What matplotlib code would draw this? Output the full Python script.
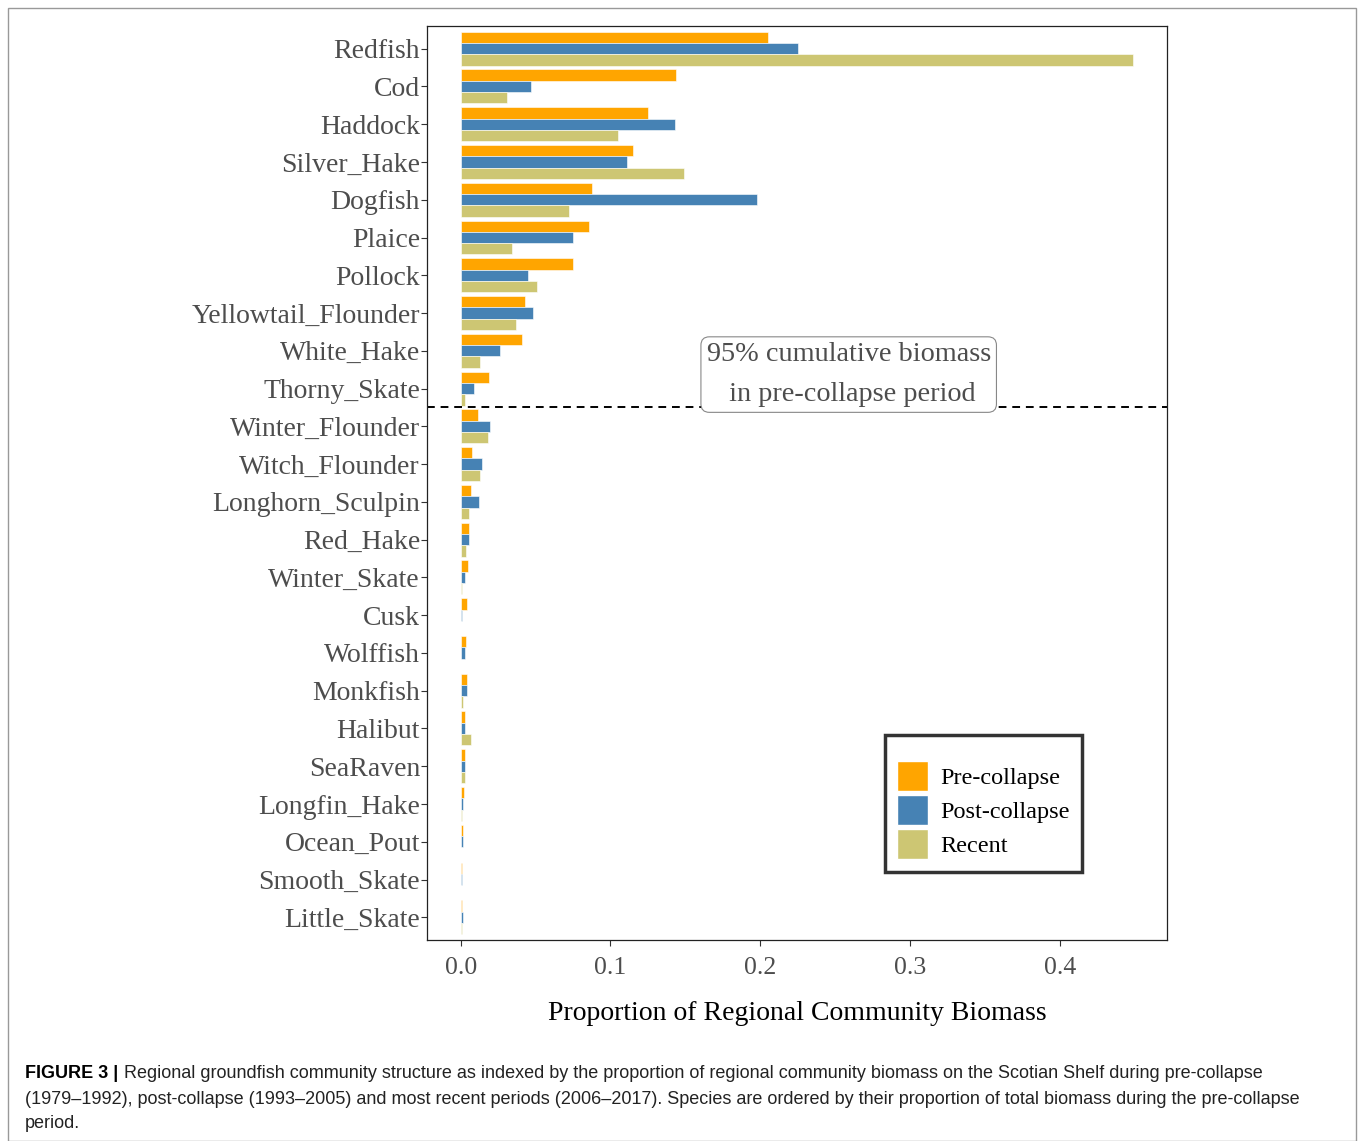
import matplotlib
matplotlib.use("Agg")
import matplotlib.pyplot as plt
import numpy as np
from matplotlib.patches import Rectangle, Patch

species = ["Redfish", "Cod", "Haddock", "Silver_Hake", "Dogfish", "Plaice", "Pollock",
           "Yellowtail_Flounder", "White_Hake", "Thorny_Skate", "Winter_Flounder",
           "Witch_Flounder", "Longhorn_Sculpin", "Red_Hake", "Winter_Skate", "Cusk",
           "Wolffish", "Monkfish", "Halibut", "SeaRaven", "Longfin_Hake", "Ocean_Pout",
           "Smooth_Skate", "Little_Skate"]
pre_collapse = [0.205, 0.144, 0.125, 0.115, 0.088, 0.086, 0.075, 0.043, 0.041, 0.019,
                0.0115, 0.0075, 0.0069, 0.0055, 0.005, 0.0042, 0.0038, 0.004, 0.003,
                0.003, 0.0022, 0.0013, 0.0009, 0.0007]
post_collapse = [0.225, 0.047, 0.143, 0.111, 0.198, 0.075, 0.045, 0.048, 0.026, 0.009,
                 0.0195, 0.014, 0.0125, 0.0055, 0.003, 0.0009, 0.003, 0.004, 0.003,
                 0.003, 0.0013, 0.0013, 0.001, 0.0016]
recent = [0.449, 0.031, 0.105, 0.149, 0.072, 0.034, 0.051, 0.037, 0.013, 0.003,
          0.018, 0.013, 0.0055, 0.0038, 0.001, 0.0005, 0.0005, 0.0013, 0.0067,
          0.003, 0.0007, 0.0005, 0.0005, 0.0012]
series_names = ["Pre-collapse", "Post-collapse", "Recent"]
xticks = [0.0, 0.1, 0.2, 0.3, 0.4]
xtick_labels = ["0.0", "0.1", "0.2", "0.3", "0.4"]
cutoff_after = "Thorny_Skate"

colors = ["#FFA500", "#4682B4", "#CDC673"]
serif = ["Liberation Serif", "DejaVu Serif"]

fig = plt.figure(figsize=(13.58, 11.41), dpi=100)
ax = fig.add_axes([427/1358, 1-940/1141, (1167-427)/1358, (940-26)/1141])

n = len(species)
ypos = np.arange(n)
bw = 0.9/3
for k, vals in enumerate([pre_collapse, post_collapse, recent]):
    ax.barh(ypos + (k-1)*bw, vals, height=bw, color=colors[k],
            edgecolor="white", linewidth=0.4, label=series_names[k])

ax.set_ylim(n - 1 + 0.6, -0.6)
xmax = max(max(pre_collapse), max(post_collapse), max(recent))
ax.set_xlim(-0.05*xmax, 1.05*xmax)
ax.set_yticks(ypos)
ax.set_yticklabels(species, family=serif, fontsize=20, color="#4d4d4d")
ax.set_xticks(xticks)
ax.set_xticklabels(xtick_labels, family=serif, fontsize=18.5, color="#4d4d4d")
ax.tick_params(axis="both", direction="out", length=4, color="#333333", width=0.8)
ax.tick_params(axis="y", pad=1)
ax.tick_params(axis="x", pad=8)
for s in ax.spines.values():
    s.set_linewidth(0.9)
    s.set_color("#222222")
ax.set_xlabel("Proportion of Regional Community Biomass", family=serif, fontsize=20,
              color="black", labelpad=16)

cut = species.index(cutoff_after) + 0.5
ax.axhline(cut, color="black", linestyle=(0, (4, 3)), linewidth=1.4)
ax.text(0.259, cut - 0.02, "95% cumulative biomass\n in pre-collapse period",
        family=serif, fontsize=20.3, color="#4d4d4d", ha="center", va="bottom",
        linespacing=1.75,
        bbox=dict(boxstyle="round,pad=0.2,rounding_size=0.3", fc="white", ec="#888888", lw=0.8))

handles = [Patch(facecolor=c, edgecolor="white", label=l) for c, l in zip(colors, series_names)]
leg = ax.legend(handles=handles, loc="upper left", bbox_to_anchor=((885-427)/740, 1-(735-26)/914),
                prop={"family": serif, "size": 17.5}, frameon=True, fancybox=False,
                title=" ", title_fontsize=7,
                handlelength=1.25, handleheight=1.55, handletextpad=0.52, labelspacing=0.15,
                borderpad=0.5, borderaxespad=0)
leg.get_frame().set_edgecolor("black")
leg.get_frame().set_linewidth(2.5)

# outer frame
fig.patches.append(Rectangle((8/1358, 0), (1356-8)/1358, 1-8/1141, transform=fig.transFigure,
                             fill=False, edgecolor="#999999", linewidth=1.0))

cap_font = ["Liberation Sans Narrow", "Liberation Sans", "DejaVu Sans"]
fig.text(25/1358, 1-1074/1141, "FIGURE 3 |", family=cap_font, fontsize=13, fontweight="bold",
         va="center", ha="left")
fig.text(124/1358, 1-1074/1141,
         "Regional groundfish community structure as indexed by the proportion of regional community biomass on the Scotian Shelf during pre-collapse",
         family=cap_font, fontsize=13, va="center", ha="left", color="#222222")
fig.text(25/1358, 1-1099/1141,
         "(1979\u20131992), post-collapse (1993\u20132005) and most recent periods (2006\u20132017). Species are ordered by their proportion of total biomass during the pre-collapse",
         family=cap_font, fontsize=13, va="center", ha="left", color="#222222")
fig.text(25/1358, 1-1124/1141, "period.", family=cap_font, fontsize=13, va="center", ha="left",
         color="#222222")

fig.savefig("out.png", dpi=100)
